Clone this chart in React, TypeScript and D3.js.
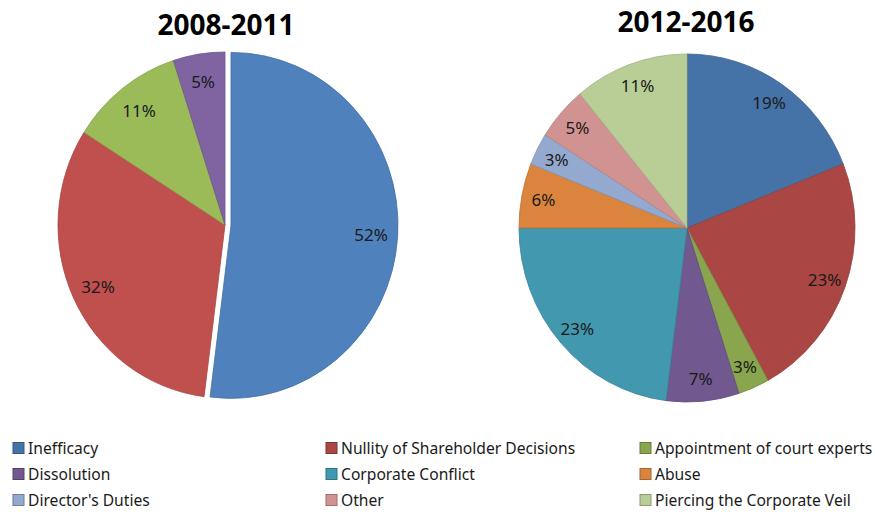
import React from "react";
import * as d3 from "d3";

const categories = [
  "Inefficacy",
  "Nullity of Shareholder Decisions",
  "Appointment of court experts",
  "Dissolution",
  "Corporate Conflict",
  "Abuse",
  "Director's Duties",
  "Other",
  "Piercing the Corporate Veil",
];

const leftValues = [52, 32, 11, 5];
const leftColors = ["#4F81BD", "#C0504D", "#9BBB59", "#8064A2"];

const rightValues = [19, 23, 3, 7, 23, 6, 3, 5, 11];
const rightColors = ["#4572A7", "#AA4643", "#89A54E", "#71588F", "#4198AF", "#DB843D", "#93A9CF", "#D19392", "#B9CD96"];

const titles = ["2008-2011", "2012-2016"];

const W = 875;
const H = 512;
const FONT = "'Noto Sans', sans-serif";

type PieProps = {
  values: number[];
  colors: string[];
  cx: number;
  cy: number;
  rx: number;
  ry: number;
  explode?: number[];
  labelK: number;
};

function Pie({ values, colors, cx, cy, rx, ry, explode, labelK }: PieProps) {
  const pie = d3.pie<number>().sort(null).value((d) => d);
  const arcs = pie(values);
  const arc = d3.arc<d3.PieArcDatum<number>>().innerRadius(0).outerRadius(rx);
  const sy = ry / rx;
  const labelArc = d3
    .arc<d3.PieArcDatum<number>>()
    .innerRadius(rx * labelK)
    .outerRadius(rx * labelK);
  return (
    <g>
      {arcs.map((a, i) => {
        const mid = (a.startAngle + a.endAngle) / 2;
        const off = explode ? explode[i] || 0 : 0;
        const dx = off * Math.sin(mid);
        const dy = -off * Math.cos(mid);
        return (
          <g key={i} transform={`translate(${cx + dx},${cy + dy}) scale(1,${sy})`}>
            <path
              d={arc(a) || ""}
              fill={colors[i]}
              stroke={d3.color(colors[i])!.darker(0.4).toString()}
              strokeWidth={0.8}
              vectorEffect="non-scaling-stroke"
            />
          </g>
        );
      })}
      {arcs.map((a, i) => {
        const mid = (a.startAngle + a.endAngle) / 2;
        const off = explode ? explode[i] || 0 : 0;
        const [lx, ly] = labelArc.centroid(a);
        return (
          <text
            key={"l" + i}
            x={cx + lx + off * Math.sin(mid)}
            y={cy + ly * sy - off * Math.cos(mid)}
            textAnchor="middle"
            dominantBaseline="central"
            fontFamily={FONT}
            fontSize={17}
            fill="#1a1a1a"
          >
            {`${a.data}%`}
          </text>
        );
      })}
    </g>
  );
}

export default function App() {
  const legendX = [13, 326, 640];
  const legendY = [448, 474, 500];
  return (
    <svg
      width={W}
      height={H}
      viewBox={`0 0 ${W} ${H}`}
      style={{ position: "absolute", left: 0, top: 0, background: "#fff" }}
    >
      <rect width={W} height={H} fill="#fff" />
      <text x={226} y={24} textAnchor="middle" dominantBaseline="central" fontFamily={FONT} fontWeight="bold" fontSize={28} fill="#000">
        {titles[0]}
      </text>
      <text x={686} y={21} textAnchor="middle" dominantBaseline="central" fontFamily={FONT} fontWeight="bold" fontSize={28} fill="#000">
        {titles[1]}
      </text>
      <Pie values={leftValues} colors={leftColors} cx={225} cy={225} rx={167} ry={173} explode={[6, 0, 0, 0]} labelK={0.84} />
      <Pie values={rightValues} colors={rightColors} cx={687} cy={228} rx={168} ry={174} labelK={0.87} />
      {categories.map((c, i) => {
        const col = i % 3;
        const row = Math.floor(i / 3);
        const x = legendX[col];
        const y = legendY[row];
        return (
          <g key={c}>
            <rect
              x={x}
              y={y - 5.5}
              width={11}
              height={11}
              fill={rightColors[i]}
              stroke={d3.color(rightColors[i])!.darker(0.8).toString()}
              strokeWidth={1}
            />
            <text
              transform={`translate(${x + 15},${y}) scale(0.92,1)`}
              dominantBaseline="central"
              fontFamily={FONT}
              fontSize={17}
              fill="#1a1a1a"
            >
              {c}
            </text>
          </g>
        );
      })}
    </svg>
  );
}
